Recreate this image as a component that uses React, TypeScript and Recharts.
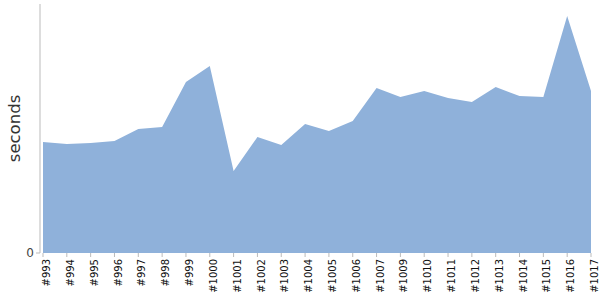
import { AreaChart, Area, XAxis, YAxis } from "recharts";

const builds = [
  "#993", "#994", "#995", "#996", "#997", "#998", "#999", "#1000",
  "#1001", "#1002", "#1003", "#1004", "#1005", "#1006", "#1007", "#1009",
  "#1010", "#1011", "#1012", "#1013", "#1014", "#1015", "#1016", "#1017",
];
const seconds = [
  111, 109, 110, 112, 124, 126, 171, 187,
  82, 116, 108, 129, 122, 132, 165, 156,
  162, 155, 151, 166, 157, 156, 237, 162,
];
const yTicks = [0];

const data = builds.map((build, i) => ({ build, seconds: seconds[i] }));

const font = "'DejaVu Sans', sans-serif";

export default function App() {
  return (
    <div style={{ position: "absolute", left: 0, top: 0, background: "#fff" }}>
      <AreaChart width={600} height={300} data={data} margin={{ top: 4, right: 9, left: 0, bottom: 0 }}>
        <XAxis
          dataKey="build"
          interval={0}
          angle={-90}
          textAnchor="end"
          height={47}
          axisLine={false}
          tickLine={{ stroke: "#bbb" }}
          tickSize={4}
          tickMargin={6}
          padding={{ left: 3, right: 0 }}
          tick={{ fill: "#111", fontSize: 10, fontFamily: font, dy: -4 } as any}
        />
        <YAxis
          domain={[0, 249]}
          ticks={yTicks}
          width={40}
          axisLine={{ stroke: "#bbb" }}
          tickLine={{ stroke: "#bbb" }}
          tickSize={4}
          tick={{ fill: "#444", fontSize: 12, fontFamily: font }}
          label={{
            value: "seconds",
            angle: -90,
            position: "insideLeft",
            offset: 14,
            style: { fill: "#333", fontSize: 16.5, fontFamily: font, textAnchor: "middle" },
          }}
        />
        <Area
          type="linear"
          dataKey="seconds"
          stroke="none"
          fill="#8fb1da"
          fillOpacity={1}
          isAnimationActive={false}
        />
      </AreaChart>
    </div>
  );
}
